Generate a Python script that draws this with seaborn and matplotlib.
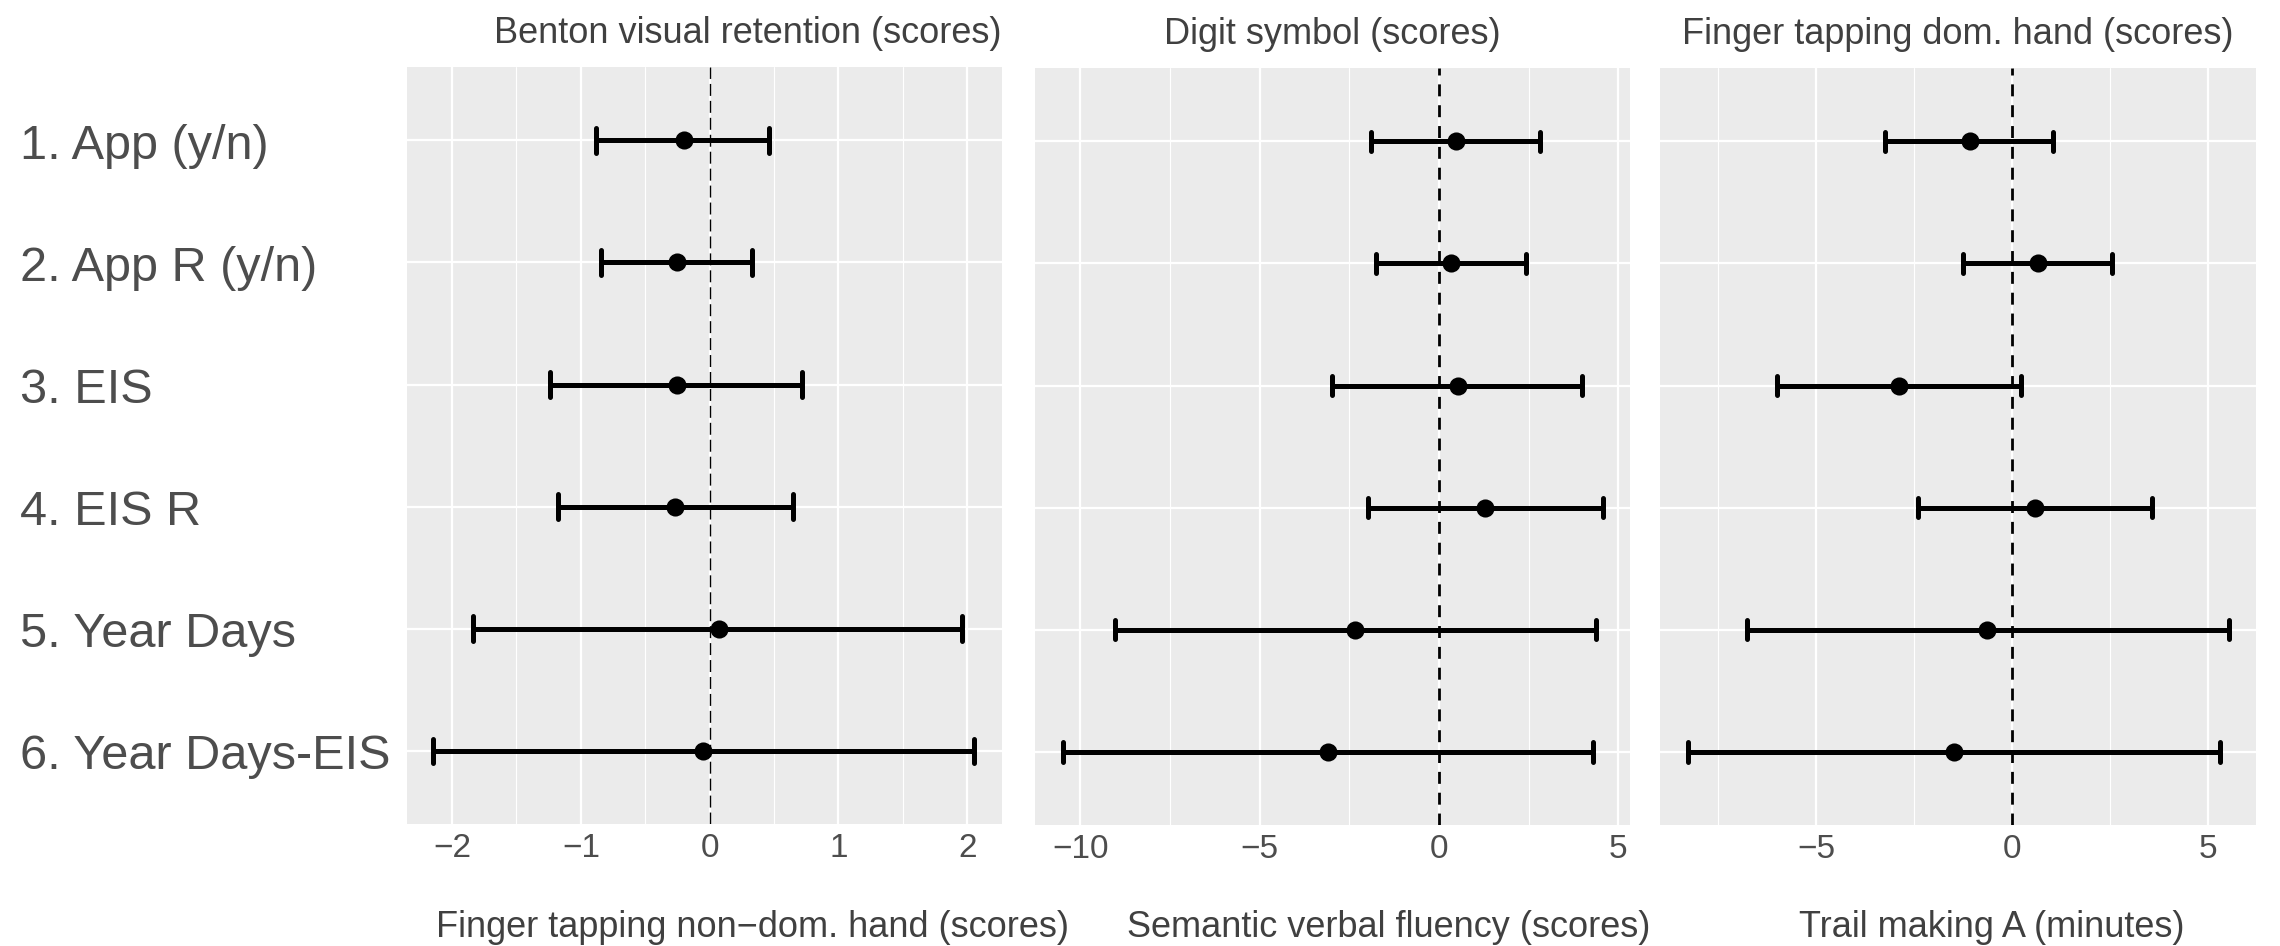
import numpy as np
import pandas as pd
import matplotlib
matplotlib.use('Agg')
import matplotlib.pyplot as plt
from matplotlib.ticker import MultipleLocator
import seaborn as sns

# ---------------------------------------------------------------------------
# data (estimate with lower / upper limits of the interval)
# ---------------------------------------------------------------------------
terms = ['1. App (y/n)', '2. App R (y/n)', '3. EIS', '4. EIS R',
         '5. Year Days', '6. Year Days-EIS']

benton_est = [-0.20, -0.25, -0.25, -0.27, 0.07, -0.05]
benton_lo = [-0.88, -0.84, -1.24, -1.18, -1.84, -2.15]
benton_hi = [0.46, 0.33, 0.72, 0.65, 1.96, 2.05]

digit_est = [0.49, 0.33, 0.53, 1.29, -2.33, -3.08]
digit_lo = [-1.90, -1.76, -2.97, -1.97, -9.02, -10.49]
digit_hi = [2.83, 2.44, 3.98, 4.57, 4.37, 4.31]

tap_est = [-1.08, 0.66, -2.88, 0.58, -0.63, -1.48]
tap_lo = [-3.23, -1.25, -5.99, -2.40, -6.76, -8.27]
tap_hi = [1.05, 2.55, 0.24, 3.57, 5.53, 5.31]

top_titles = ['Benton visual retention (scores)', 'Digit symbol (scores)',
              'Finger tapping dom. hand (scores)']
bottom_labels = ['Finger tapping non\u2212dom. hand (scores)',
                 'Semantic verbal fluency (scores)',
                 'Trail making A (minutes)']

panels = [
    (benton_est, benton_lo, benton_hi),
    (digit_est, digit_lo, digit_hi),
    (tap_est, tap_lo, tap_hi),
]

# ---------------------------------------------------------------------------
# style
# ---------------------------------------------------------------------------
sns.set_theme(style='darkgrid')
plt.rcParams['font.family'] = ['Liberation Sans', 'DejaVu Sans']
plt.rcParams['axes.facecolor'] = '#EBEBEB'

fig = plt.figure(figsize=(22.8, 9.469), dpi=100)

# axes boxes in figure fractions [left, bottom, width, height]
boxes = [
    [407 / 2280, 1 - 825 / 947, 595 / 2280, 757 / 947],
    [1035 / 2280, 1 - 826 / 947, 595 / 2280, 757 / 947],
    [1660 / 2280, 1 - 826 / 947, 596 / 2280, 757 / 947],
]
xlims = [(-2.35, 2.27), (-11.26, 5.33), (-8.98, 6.23)]
majors = [1, 5, 5]
minors = [0.5, 2.5, 2.5]
caps = [0.2, 0.16, 0.16]

for i, (est, lo, hi) in enumerate(panels):
    ax = fig.add_axes(boxes[i])

    # long format: median of (lo, est, hi) = est, full range = interval
    df = pd.DataFrame({
        'term': terms * 3,
        'value': list(lo) + list(est) + list(hi),
    })
    sns.pointplot(data=df, x='value', y='term', order=terms,
                  estimator='median', errorbar=('pi', 100),
                  linestyle='none', capsize=caps[i], color='black',
                  markersize=11, err_kws={'linewidth': 3.6}, ax=ax)

    if i == 0:
        ax.axvline(0, color='black', linewidth=1.0, dashes=(8.6, 3.6), zorder=1)
    else:
        ax.axvline(0, color='black', linewidth=2.0, dashes=(4.3, 3.2), zorder=1)

    ax.set_xlim(*xlims[i])
    ax.set_ylim(5.6, -0.6)
    ax.xaxis.set_major_locator(MultipleLocator(majors[i]))
    ax.xaxis.set_minor_locator(MultipleLocator(minors[i]))
    ax.grid(which='major', color='white', linewidth=1.6)
    ax.grid(which='minor', axis='x', color='white', linewidth=0.8)
    for s in ax.spines.values():
        s.set_visible(False)

    ax.set_xlabel('')
    ax.set_ylabel('')
    ax.tick_params(axis='x', which='major', labelsize=24, labelcolor='#4D4D4D',
                   length=0, pad=6)
    ax.tick_params(axis='x', which='minor', length=0)

    if i == 0:
        ax.tick_params(axis='y', which='major', labelsize=35, labelcolor='#4D4D4D',
                       length=4, width=1, color='#333333', pad=387 * 0.72 - 4)
        for lab in ax.get_yticklabels():
            lab.set_ha('left')
    else:
        # the tick marks of these panels sit a bit above the rows
        ax.tick_params(axis='y', which='major', length=0, labelleft=False)
        ax.set_yticks(np.arange(len(terms)) - 0.17, minor=True)
        ax.tick_params(axis='y', which='minor', length=5, width=1.5,
                       color='#333333', labelleft=False)

    ax.set_title(top_titles[i], fontsize=26, color='#404040', pad=18,
                 loc='right' if i == 0 else 'center')

# x-axis titles at the bottom edge
label_x = [752, 1389, 1992]
for lx, txt in zip(label_x, bottom_labels):
    fig.text(lx / 2280, 0.002, txt, ha='center', va='bottom',
             fontsize=26, color='#404040')

fig.savefig('out.png', dpi=100)
